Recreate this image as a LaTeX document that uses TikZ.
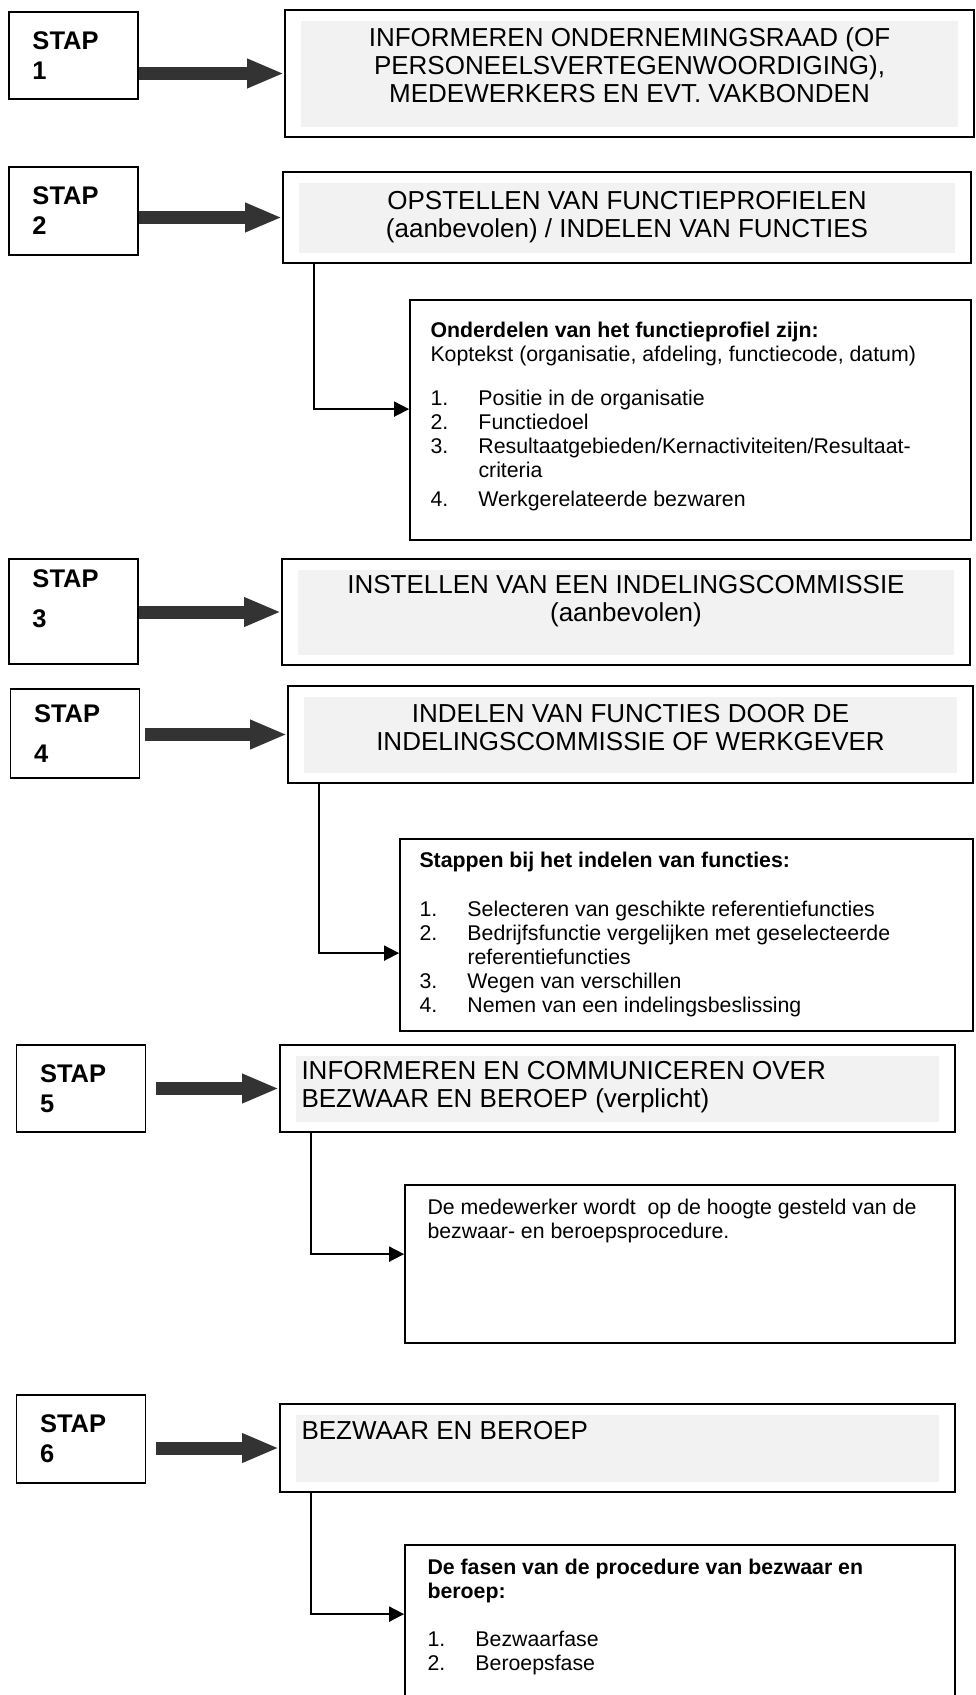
\documentclass[tikz,border=0pt]{standalone}
\usepackage{fontspec}
\setmainfont{Liberation Sans}
\usetikzlibrary{positioning,arrows.meta}

\tikzset{
  stapbox/.style={draw, line width=0.9pt, minimum width=64.5pt, inner xsep=11.5pt,
    inner ysep=0pt, text width=41pt, align=left,
    font=\fontsize{12.75}{15}\selectfont\bfseries},
  titelbox/.style={draw, line width=0.9pt, inner sep=0pt,
    path picture={\fill[gray!10] ([xshift=8pt,yshift=-5.5pt]path picture bounding box.north west)
      rectangle ([xshift=-8pt,yshift=5pt]path picture bounding box.south east);}},
  titeltekst/.style={inner sep=0pt, align=center, font=\fontsize{13}{14}\selectfont},
  subbox/.style={draw, line width=0.9pt, inner sep=0pt},
  subtekst/.style={inner sep=0pt, align=left, font=\fontsize{10.65}{12}\selectfont},
  blokpijl/.style={line width=6.5pt, black!80, -{Triangle[length=18.5pt,width=13.5pt]}},
  verbinding/.style={line width=0.9pt, -{Triangle[length=7.5pt,width=7.5pt]}}
}
\newcommand{\punt}[2]{\makebox[24pt][l]{#1}#2}

\begin{document}
\begin{tikzpicture}[x=0.5pt,y=-0.5pt]
  \useasboundingbox (0,0) rectangle (975,1695);
  \clip (0,0) rectangle (975,1695);
  \foreach \n/\x/\y/\h in {1/73.5/55.5/43.5, 2/73.5/211/44, 5/81/1088.5/43.5, 6/81/1439/44}
    \node[stapbox, minimum height=\h pt] (stap\n) at (\x,\y) {STAP\\\n};
  \node[stapbox, minimum height=52.5pt, font=\fontsize{12.75}{20}\selectfont\bfseries]
    (stap3) at (73.5,611.5) {STAP\\3\\[-7pt]\mbox{}};
  \node[stapbox, minimum height=44.5pt, font=\fontsize{12.75}{20}\selectfont\bfseries]
    (stap4) at (75,733.5) {STAP\\4};

  \node[titelbox, minimum width=344.5pt, minimum height=63.5pt] (titel1) at (629.5,73.5) {};
  \node[titelbox, minimum width=344pt, minimum height=45.5pt] (titel2) at (627,217.5) {};
  \node[titelbox, minimum width=344pt, minimum height=53pt] (titel3) at (626,612) {};
  \node[titelbox, minimum width=342.5pt, minimum height=48.5pt] (titel4) at (630.5,734.5) {};
  \node[titelbox, minimum width=337.5pt, minimum height=43.5pt] (titel5) at (617.5,1088.5) {};
  \node[titelbox, minimum width=337.5pt, minimum height=44pt] (titel6) at (617.5,1448) {};

  \node[titeltekst, below=9pt of titel1.north] (tekst1)
    {INFORMEREN ONDERNEMINGSRAAD (OF\\PERSONEELSVERTEGENWOORDIGING),\\MEDEWERKERS EN EVT. VAKBONDEN};
  \node[titeltekst, below=10pt of titel2.north] (tekst2)
    {OPSTELLEN VAN FUNCTIEPROFIELEN\\(aanbevolen) / INDELEN VAN FUNCTIES};
  \node[titeltekst, below=8.5pt of titel3.north] (tekst3)
    {INSTELLEN VAN EEN INDELINGSCOMMISSIE\\(aanbevolen)};
  \node[titeltekst, below=9.5pt of titel4.north] (tekst4)
    {INDELEN VAN FUNCTIES DOOR DE\\INDELINGSCOMMISSIE OF WERKGEVER};
  \node[titeltekst, align=left, below right=8.5pt and 11pt of titel5.north west] (tekst5)
    {INFORMEREN EN COMMUNICEREN OVER\\BEZWAAR EN BEROEP (verplicht)};
  \node[titeltekst, align=left, below right=9pt and 11pt of titel6.north west] (tekst6)
    {BEZWAAR EN BEROEP};

  \node[subbox, minimum width=280.5pt, minimum height=120pt] (sub2) at (690.5,420) {};
  \node[subbox, minimum width=286.5pt, minimum height=96pt] (sub4) at (686.5,935) {};
  \node[subbox, minimum width=275pt, minimum height=79pt] (sub5) at (680,1264) {};
  \node[subbox, minimum width=275pt, minimum height=85pt] (sub6) at (680,1630) {};

  \node[subtekst, below right=11.5pt and 10.5pt of sub2.north west] (lijst2)
    {\textbf{Onderdelen van het functieprofiel zijn:}\\
     Koptekst (organisatie, afdeling, functiecode, datum)\\[10pt]
     \punt{1.}{Positie in de organisatie}\\
     \punt{2.}{Functiedoel}\\
     \punt{3.}{Resultaatgebieden/Kernactiviteiten/Resultaat-}\\
     \punt{}{criteria}\\[2.5pt]
     \punt{4.}{Werkgerelateerde bezwaren}};
  \node[subtekst, below right=7pt and 10pt of sub4.north west] (lijst4)
    {\textbf{Stappen bij het indelen van functies:}\\[12.5pt]
     \punt{1.}{Selecteren van geschikte referentiefuncties}\\
     \punt{2.}{Bedrijfsfunctie vergelijken met geselecteerde}\\
     \punt{}{referentiefuncties}\\
     \punt{3.}{Wegen van verschillen}\\
     \punt{4.}{Nemen van een indelingsbeslissing}};
  \node[subtekst, below right=7.5pt and 11.5pt of sub5.north west] (lijst5)
    {De medewerker wordt\ \ op de hoogte gesteld van de\\bezwaar- en beroepsprocedure.};
  \node[subtekst, below right=7.5pt and 11.5pt of sub6.north west] (lijst6)
    {\textbf{De fasen van de procedure van bezwaar en}\\
     \textbf{beroep:}\\[12pt]
     \punt{1.}{Bezwaarfase}\\
     \punt{2.}{Beroepsfase}};

  \draw[blokpijl] (stap1.east |- titel1.west) -- (titel1.west);
  \draw[blokpijl] (stap2.east |- titel2.west) -- (titel2.west);
  \draw[blokpijl] (stap3.east |- titel3.west) -- (titel3.west);
  \draw[blokpijl] ([xshift=2.5pt]stap4.east |- titel4.west) -- (titel4.west);
  \draw[blokpijl] ([xshift=5pt]stap5.east |- titel5.west) -- (titel5.west);
  \draw[blokpijl] ([xshift=5pt]stap6.east |- titel6.west) -- (titel6.west);

  \draw[verbinding] ([xshift=16pt]titel2.south west) |- ([yshift=-55pt]sub2.north west);
  \draw[verbinding] ([xshift=16pt]titel4.south west) |- ([yshift=-57.5pt]sub4.north west);
  \draw[verbinding] ([xshift=16pt]titel5.south west) |- ([yshift=-35pt]sub5.north west);
  \draw[verbinding] ([xshift=16pt]titel6.south west) |- ([yshift=-35pt]sub6.north west);
\end{tikzpicture}
\end{document}
